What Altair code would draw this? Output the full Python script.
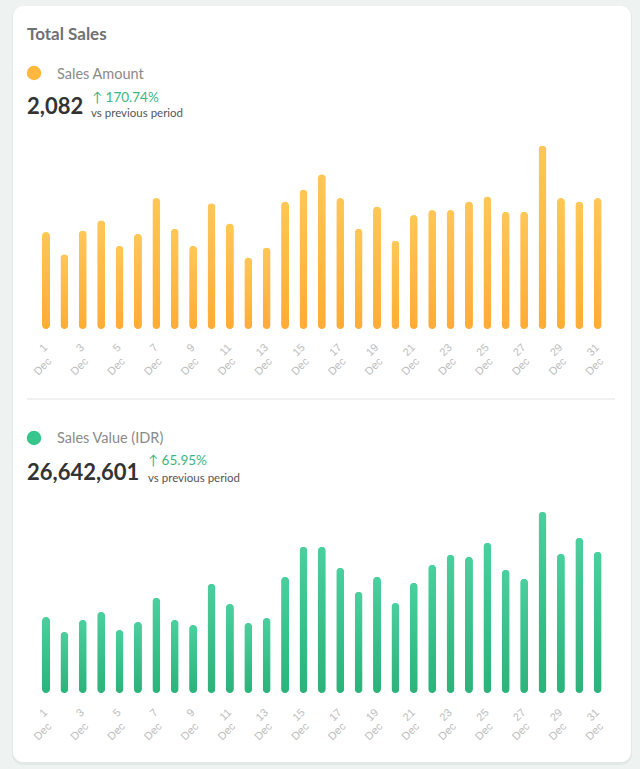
import altair as alt
import pandas as pd

# ---- data ----
days = list(range(1, 32))
sales_amount = [57, 44, 58, 64, 49, 56, 77, 59, 49, 74, 62, 42, 48, 75, 82, 91,
                77, 59, 72, 52, 67, 70, 70, 75, 78, 69, 69, 108, 77, 75, 77]
sales_value = [602810, 483830, 579010, 642470, 499700, 563150, 753510, 579020,
               539360, 864560, 705920, 555220, 594880, 920080, 1158030, 1158020,
               991460, 801100, 920070, 713850, 872490, 1015260, 1094570, 1078710,
               1189750, 975600, 904210, 1435640, 1102510, 1229410, 1118400]

title_text = "Total Sales"
amount_label = "Sales Amount"
amount_total = "2,082"
amount_change = "↑ 170.74%"
value_label = "Sales Value (IDR)"
value_total = "26,642,601"
value_change = "↑ 65.95%"
vs_text = "vs previous period"
month_label = "Dec"

df = pd.DataFrame({"day": days, "amount": sales_amount, "value": sales_value})
labels_df = df[df["day"] % 2 == 1].copy()
labels_df["day_text"] = labels_df["day"].astype(str)
labels_df["month"] = month_label

FONT = "Lato"
AXIS_FONT = "Liberation Sans"

X = alt.X("day:Q", scale=alt.Scale(domain=[1, 31], range=[46, 597.7], padding=0),
          axis=None)

orange = alt.Gradient(
    gradient="linear",
    stops=[alt.GradientStop(color="#FFC757", offset=0),
           alt.GradientStop(color="#FFAC36", offset=1)],
    x1=1, x2=1, y1=0, y2=1,
)
green = alt.Gradient(
    gradient="linear",
    stops=[alt.GradientStop(color="#4ACF9E", offset=0),
           alt.GradientStop(color="#2BB37A", offset=1)],
    x1=1, x2=1, y1=0, y2=1,
)

one = pd.DataFrame({"a": [0]})


def txt(text, x, y, size, color, weight="normal", font=FONT):
    return alt.Chart(one).mark_text(
        text=text, align="left", baseline="alphabetic", font=font,
        fontSize=size, fontWeight=weight, color=color,
    ).encode(x=alt.value(x), y=alt.value(y))


# card background
shadow = alt.Chart(one).mark_rect(cornerRadius=11, color="#E1E8E6").encode(
    x=alt.value(12), x2=alt.value(632), y=alt.value(6), y2=alt.value(765))
card = alt.Chart(one).mark_rect(cornerRadius=10, color="#FFFFFF").encode(
    x=alt.value(13), x2=alt.value(631), y=alt.value(6), y2=alt.value(762))

divider = alt.Chart(one).mark_rule(color="#E2E2E2", strokeWidth=1).encode(
    x=alt.value(27), x2=alt.value(615), y=alt.value(399))

dot_top = alt.Chart(one).mark_circle(size=210, color="#FFB73E", opacity=1).encode(
    x=alt.value(34), y=alt.value(73))
dot_bot = alt.Chart(one).mark_circle(size=210, color="#36C68C", opacity=1).encode(
    x=alt.value(34), y=alt.value(438))

texts = [
    txt(title_text, 27, 40, 17, "#6E7272", "bold"),
    txt(amount_label, 57, 79, 14.5, "#8A8A8A"),
    txt(amount_total, 27, 114, 22, "#333333", "bold"),
    txt(amount_change, 92, 102, 13.5, "#3BB57F", font="Lato, DejaVu Sans"),
    txt(vs_text, 91, 117, 11.5, "#555555"),
    txt(value_label, 57, 443, 14.5, "#8A8A8A"),
    txt(value_total, 27, 480, 22, "#333333", "bold"),
    txt(value_change, 148, 465, 13.5, "#3BB57F", font="Lato, DejaVu Sans"),
    txt(vs_text, 148, 482, 11.5, "#555555"),
]

base = alt.Chart(df)
bars_top = base.mark_bar(width=8, cornerRadius=4, color=orange).encode(
    x=X,
    y=alt.Y("amount:Q", scale=alt.Scale(domain=[0, 120], range=[329, 125]), axis=None),
)
bars_bot = base.mark_bar(width=8, cornerRadius=4, color=green).encode(
    x=X,
    y=alt.Y("value:Q", scale=alt.Scale(domain=[0, 1600000], range=[693, 491]), axis=None),
)

lab = alt.Chart(labels_df)


def day_labels(y):
    return lab.mark_text(angle=315, align="right", baseline="middle", font=AXIS_FONT,
                         fontSize=11, color="#BDBDBD").encode(
        x=X, y=alt.value(y), text="day_text:N")


def month_labels(y):
    return lab.mark_text(angle=315, align="right", baseline="middle", font=AXIS_FONT,
                         fontSize=11, color="#BDBDBD", dx=2.8, dy=2.8).encode(
        x=X, y=alt.value(y), text="month:N")


chart = alt.layer(
    shadow, card, divider, dot_top, dot_bot, *texts,
    bars_top, bars_bot,
    day_labels(346), month_labels(360),
    day_labels(711), month_labels(725),
).resolve_scale(y="independent").properties(
    width=640, height=769, padding=0,
    autosize=alt.AutoSizeParams(type="none"),
    background="#EEF3F2",
).configure_view(strokeWidth=0)

chart.save("out.html", embed_options={"renderer": "svg", "actions": False})
